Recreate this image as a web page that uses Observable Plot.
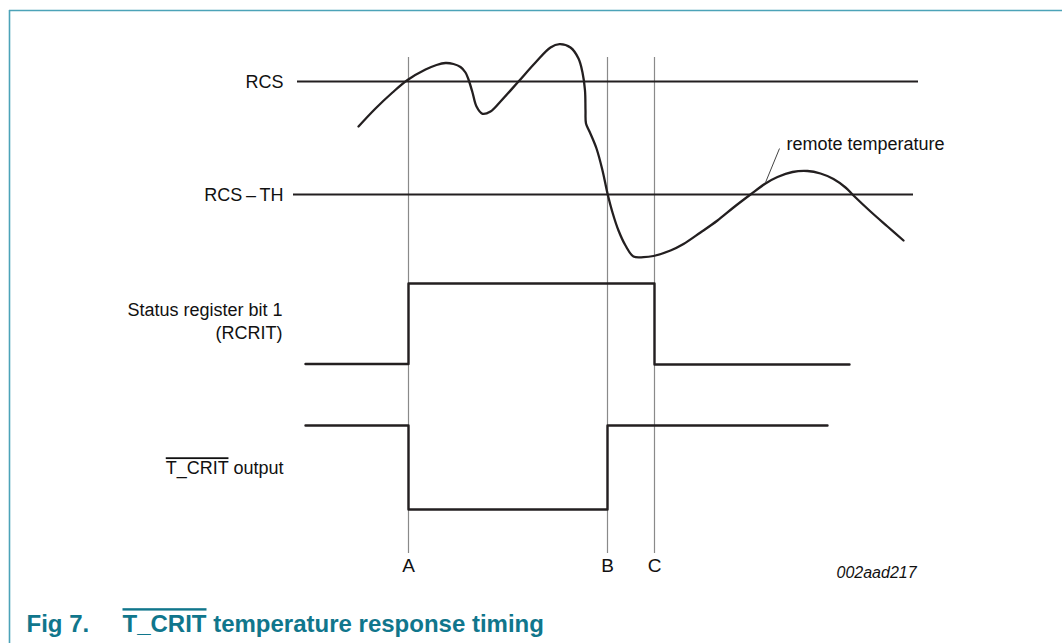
<!DOCTYPE html>
<html><head><meta charset="utf-8">
<script src="https://cdn.jsdelivr.net/npm/d3@7"></script>
<script src="https://cdn.jsdelivr.net/npm/@observablehq/plot@0.6"></script>
<style>
body{margin:0;background:#fff}
svg{display:block}
</style>
</head><body><div id="chart"></div>
<script>
// Remote temperature trace (diagram units)
const curveX = [358,375,392,407,425,436,445,453,460,465,468,472,476,482,490,500,518,535,550,559,570,578,582,584.5,585,585.5,589,596,602,607,612,618,625,633,643,653,670,683,700,717,733,750,765,777,792,807,820,833,845,853,870,887,903];
const curveY = [126,108,92,79.5,69,64.5,62.5,63.5,66.5,72,79,92,106,113.3,111,101,81,62,47,43.7,47,58,72,90,110,123,131,148,170,193,212,230,245,256,256.7,255.5,250,243.5,232,220,207,194,183,176.5,171.5,170.5,173,178.5,187,195,211,226,240];

// Timing events
const eventNames = ["A", "B", "C"];
const eventTimes = [408, 607, 654];

// Threshold levels
const thresholdNames = ["RCS", "RCS\u2009\u2013\u2009TH"];
const thresholdLevels = [81, 194];
const thresholdStart = [297, 293];
const thresholdEnd = [918, 913];

// Digital signals (time, level)
const statusX = [305, 408, 408, 654, 654, 849];
const statusY = [363.5, 363.5, 283, 283, 364, 364];
const tcritX = [305, 408, 408, 607, 607, 827];
const tcritY = [425, 425, 509, 509, 425, 425];

const curve = curveX.map((x, i) => ({x, y: curveY[i]}));
const events = eventNames.map((name, i) => ({name, t: eventTimes[i]}));
const thresholds = thresholdNames.map((name, i) => ({name, level: thresholdLevels[i], x1: thresholdStart[i], x2: thresholdEnd[i]}));
const status = statusX.map((x, i) => ({x, y: statusY[i]}));
const tcrit = tcritX.map((x, i) => ({x, y: tcritY[i]}));

const font = "'Liberation Sans', Arial, Helvetica, sans-serif";
const ink = "#231f20";
const teal = "#4ca3b8";

const chart = Plot.plot({
  width: 1062,
  height: 643,
  margin: 0,
  x: {domain: [0, 1062], range: [0, 1062], axis: null},
  y: {domain: [0, 643], range: [0, 643], axis: null},
  style: {background: "white", fontFamily: font},
  marks: [
    // frame border (top and left)
    Plot.ruleY([10], {x1: 9, x2: 1062, stroke: teal, strokeWidth: 1.6}),
    Plot.ruleX([9], {y1: 10, y2: 643, stroke: teal, strokeWidth: 1.6}),
    // event verticals
    Plot.ruleX(events, {x: "t", y1: 57, y2: 553, stroke: "#8a8a8a", strokeWidth: 1.2}),
    // thresholds
    Plot.ruleY(thresholds, {y: "level", x1: "x1", x2: "x2", stroke: ink, strokeWidth: 2}),
    Plot.text(thresholds, {x: 283, y: "level", text: "name", textAnchor: "end", lineAnchor: "middle", dy: 1, fontSize: 18, fill: "#111"}),
    // remote temperature curve
    Plot.line(curve, {x: "x", y: "y", curve: "catmull-rom", stroke: ink, strokeWidth: 2.3}),
    Plot.link([{x1: 765, y1: 182, x2: 779, y2: 148}], {x1: "x1", y1: "y1", x2: "x2", y2: "y2", stroke: "#444", strokeWidth: 1}),
    Plot.text(["remote temperature"], {x: 786, y: 144, text: d => d, textAnchor: "start", lineAnchor: "middle", fontSize: 18, fill: "#111"}),
    // digital signals
    Plot.line(status, {x: "x", y: "y", stroke: ink, strokeWidth: 2.4}),
    Plot.line(tcrit, {x: "x", y: "y", stroke: ink, strokeWidth: 2.4}),
    Plot.text(["Status register bit 1\n(RCRIT)"], {x: 282, y: 319.5, text: d => d, textAnchor: "end", lineAnchor: "middle", lineHeight: 1.28, fontSize: 18, fill: "#111"}),
    Plot.text(["T_CRIT output"], {x: 283, y: 468, text: d => d, textAnchor: "end", lineAnchor: "middle", fontSize: 18, fill: "#111"}),
    // event labels
    Plot.text(events, {x: "t", y: 565, text: "name", textAnchor: "middle", lineAnchor: "middle", fontSize: 19, fill: "#111"}),
    Plot.text(["002aad217"], {x: 836, y: 572, text: d => d, textAnchor: "start", lineAnchor: "middle", fontSize: 16, fontStyle: "italic", fill: "#111"}),
    // caption
    Plot.text(["Fig 7."], {x: 26, y: 624, text: d => d, textAnchor: "start", lineAnchor: "middle", fontSize: 24, fontWeight: "bold", fill: "#10768c"}),
    Plot.text(["T_CRIT temperature response timing"], {x: 122, y: 624, text: d => d, textAnchor: "start", lineAnchor: "middle", fontSize: 24, fontWeight: "bold", fill: "#10768c"})
  ]
});

// overline the active-low signal name
d3.select(chart).selectAll("text").each(function() {
  const el = d3.select(this);
  const t = el.text();
  if (t.startsWith("T_CRIT")) {
    const rest = t.slice(6);
    el.text(null);
    el.append("tspan").style("text-decoration", "overline").text("T_CRIT");
    el.append("tspan").text(rest);
  }
});

document.getElementById("chart").appendChild(chart);
</script>
</body></html>
